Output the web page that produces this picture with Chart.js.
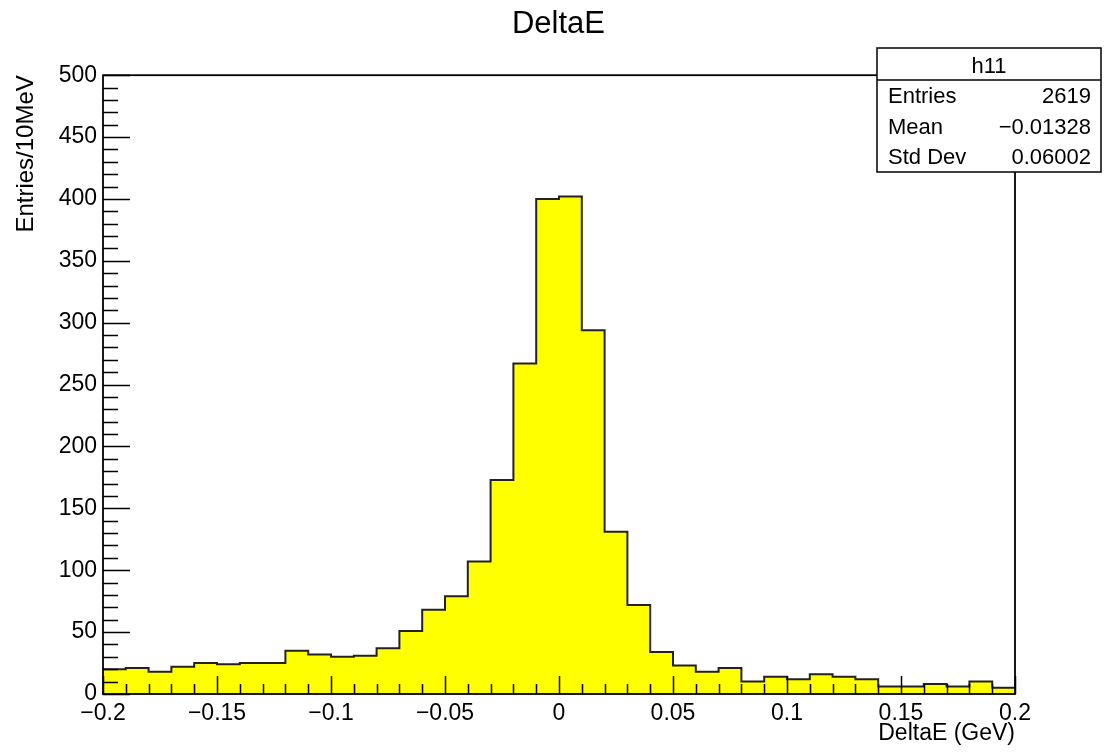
<!DOCTYPE html>
<html>
<head>
<meta charset="utf-8">
<title>DeltaE</title>
<script src="https://cdn.jsdelivr.net/npm/chart.js@4.4.0/dist/chart.umd.min.js"></script>
<style>
  body { margin: 0; background: #fff; }
  canvas { display: block; }
</style>
</head>
<body>
<canvas id="deltaE" width="1105" height="755"></canvas>
<script>
// h11 : DeltaE, 40 bins of 10 MeV from -0.2 to 0.2 GeV
const binLow = -0.2;
const binWidth = 0.01;
const counts = [
  20, 21, 18, 22, 25, 24, 25, 25, 35, 32,
  30, 31, 37, 51, 68, 79, 107, 173, 267, 400,
  402, 294, 131, 72, 34, 23, 18, 21, 10, 14,
  12, 16, 14, 12, 6, 6, 8, 6, 10, 5,
];
const xTicks = [-0.2, -0.15, -0.1, -0.05, 0, 0.05, 0.1, 0.15, 0.2];
const yTicks = [0, 50, 100, 150, 200, 250, 300, 350, 400, 450, 500];
const statNames = ["Entries", "Mean", "Std Dev"];
const statValues = ["2619", "\u22120.01328", "0.06002"];

const font = "'Liberation Sans', Arial, Helvetica, sans-serif";
Chart.defaults.font.family = font;
Chart.defaults.color = "#000";

// step outline: one point per low bin edge + closing point at the upper edge
const points = counts.map((c, i) => ({ x: +(binLow + i * binWidth).toFixed(2), y: c }));
points.push({ x: +(binLow + counts.length * binWidth).toFixed(2), y: counts[counts.length - 1] });

const fmt = (v) => (v < 0 ? "\u2212" + Math.abs(v) : String(v));

// ROOT-like frame, inward ticks and stats box
const rootFrame = {
  id: "rootFrame",
  afterDatasetsDraw(chart) {
    const { ctx, chartArea: a, scales } = chart;
    ctx.save();
    ctx.strokeStyle = "#000";
    ctx.lineWidth = 1.5;
    ctx.beginPath();
    for (let v = 0; v <= 500; v += 10) {
      const py = Math.round(scales.y.getPixelForValue(v)) + 0.5;
      const len = v % 50 === 0 ? 27 : 15;
      ctx.moveTo(a.left, py);
      ctx.lineTo(a.left + len, py);
    }
    for (let i = -20; i <= 20; i++) {
      const px = Math.round(scales.x.getPixelForValue(i / 100)) + 0.5;
      const len = i % 5 === 0 ? 18 : 10;
      ctx.moveTo(px, a.bottom);
      ctx.lineTo(px, a.bottom - len);
    }
    ctx.stroke();
    ctx.lineWidth = 1.8;
    ctx.strokeRect(a.left, a.top, a.right - a.left, a.bottom - a.top);
    ctx.restore();
  },
  afterDraw(chart) {
    const ctx = chart.ctx;
    const left = 877, top = 48, right = 1101, bottom = 172, split = 80;
    ctx.save();
    ctx.fillStyle = "#fff";
    ctx.fillRect(left, top, right - left, bottom - top);
    ctx.strokeStyle = "#000";
    ctx.lineWidth = 1.5;
    ctx.strokeRect(left, top, right - left, bottom - top);
    ctx.beginPath();
    ctx.moveTo(left, split);
    ctx.lineTo(right, split);
    ctx.stroke();
    ctx.fillStyle = "#000";
    ctx.font = "22px " + font;
    ctx.textBaseline = "middle";
    ctx.textAlign = "center";
    ctx.fillText("h11", (left + right) / 2, 67);
    statNames.forEach((name, i) => {
      const y = 97 + i * 30.5;
      ctx.textAlign = "left";
      ctx.fillText(name, 888, y);
      ctx.textAlign = "right";
      ctx.fillText(statValues[i], 1091, y);
    });
    ctx.restore();
  },
};

new Chart(document.getElementById("deltaE"), {
  type: "line",
  data: {
    datasets: [
      {
        label: "h11",
        data: points,
        stepped: true,
        fill: "origin",
        backgroundColor: "#ffff00",
        borderColor: "#222",
        borderWidth: 2,
        pointRadius: 0,
      },
    ],
  },
  options: {
    responsive: false,
    animation: false,
    events: [],
    layout: { padding: { left: 12 } },
    plugins: {
      legend: { display: false },
      tooltip: { enabled: false },
      title: {
        display: true,
        text: "DeltaE",
        font: { size: 31, weight: "normal" },
        padding: { top: 6, bottom: 32 },
      },
    },
    scales: {
      x: {
        type: "linear",
        min: -0.2,
        max: 0.2,
        grid: { display: false, drawTicks: false },
        border: { display: false },
        afterBuildTicks: (s) => {
          s.ticks = xTicks.map((v) => ({ value: v }));
        },
        afterFit: (s) => {
          s.height = 61;
        },
        ticks: { autoSkip: false, maxRotation: 0, padding: 6, font: { size: 23 }, callback: fmt },
        title: {
          display: true,
          text: "DeltaE (GeV)",
          align: "end",
          font: { size: 23 },
          padding: { top: 0, bottom: 8 },
        },
      },
      y: {
        min: 0,
        max: 500,
        grid: { display: false, drawTicks: false },
        border: { display: false },
        afterBuildTicks: (s) => {
          s.ticks = yTicks.map((v) => ({ value: v }));
        },
        afterFit: (s) => {
          s.width = 91;
        },
        ticks: { padding: 6, font: { size: 23 } },
        title: {
          display: true,
          text: "Entries/10MeV",
          align: "end",
          font: { size: 24 },
          padding: { top: 0, bottom: 0 },
        },
      },
      right: {
        position: "right",
        grid: { display: false, drawTicks: false },
        border: { display: false },
        ticks: { display: false },
        afterFit: (s) => {
          s.width = 90;
        },
      },
    },
  },
  plugins: [rootFrame],
});
</script>
</body>
</html>
